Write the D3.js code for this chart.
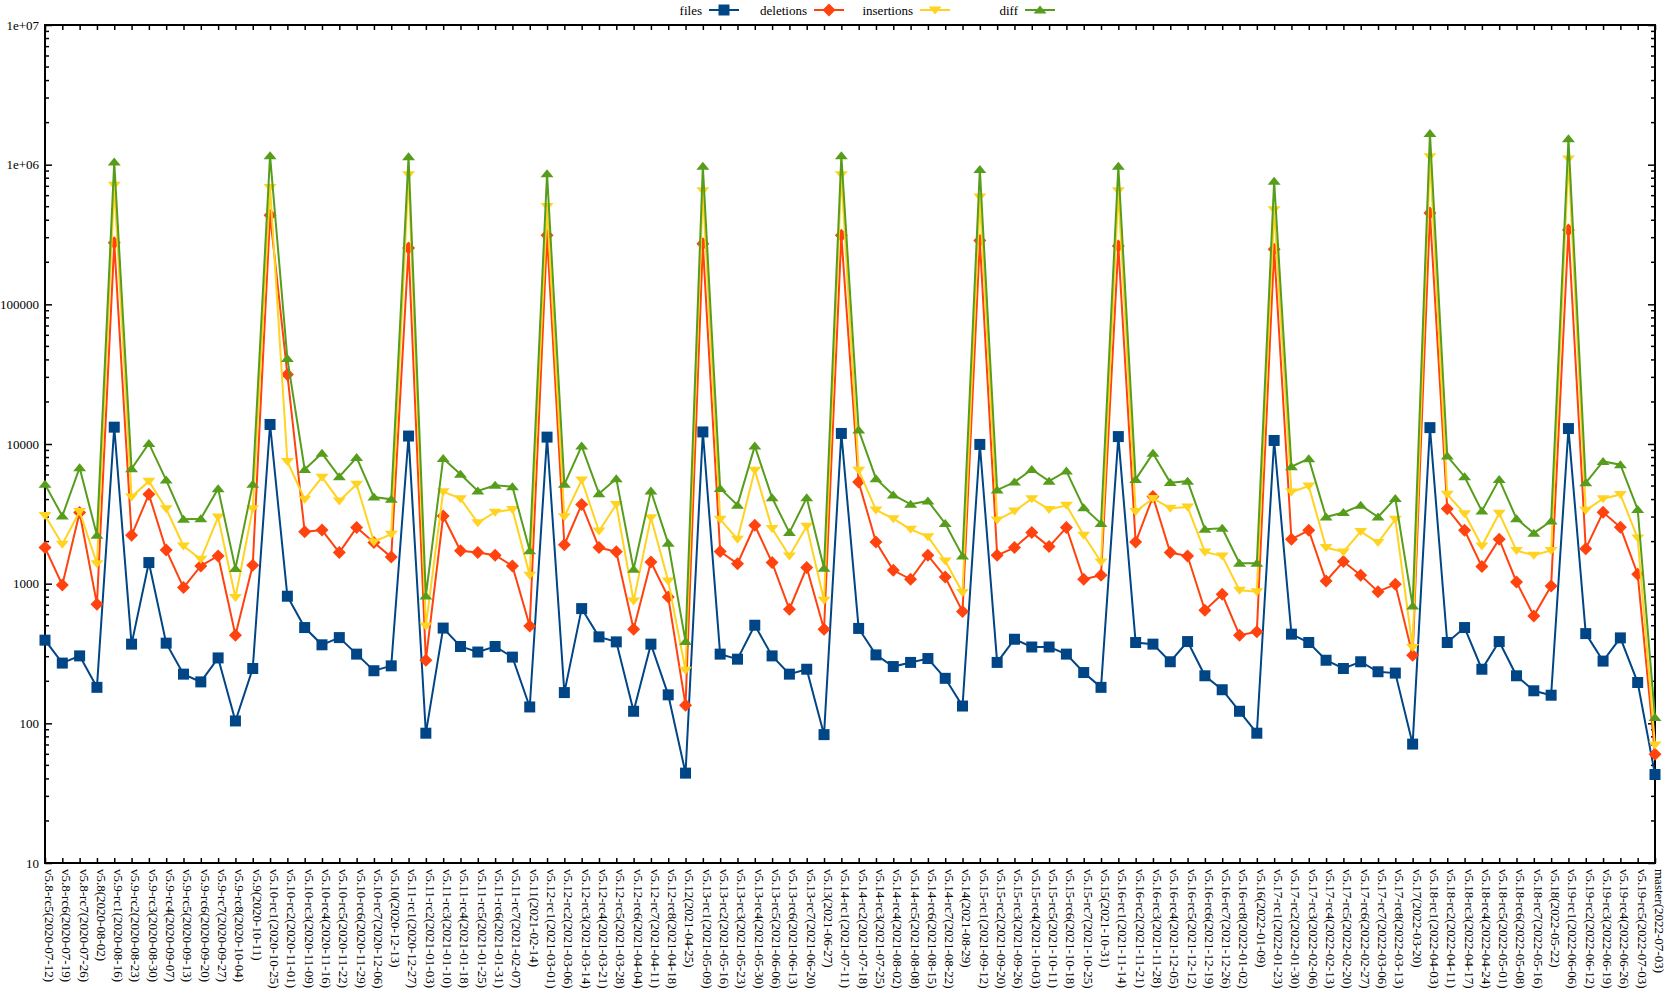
<!DOCTYPE html>
<html>
<head>
<meta charset="utf-8">
<script src="https://cdn.jsdelivr.net/npm/d3@7"></script>
<style>
  body { margin: 0; background: #fff; }
  text { font-family: "Liberation Serif", serif; font-size: 13px; fill: #000; }
</style>
</head>
<body>
<script>
var svgWidth = 1666;
var svgHeight = 995;

var labels = [
  "v5.8-rc5(2020-07-12)", "v5.8-rc6(2020-07-19)", "v5.8-rc7(2020-07-26)", "v5.8(2020-08-02)",
  "v5.9-rc1(2020-08-16)", "v5.9-rc2(2020-08-23)", "v5.9-rc3(2020-08-30)", "v5.9-rc4(2020-09-07)",
  "v5.9-rc5(2020-09-13)", "v5.9-rc6(2020-09-20)", "v5.9-rc7(2020-09-27)", "v5.9-rc8(2020-10-04)",
  "v5.9(2020-10-11)", "v5.10-rc1(2020-10-25)", "v5.10-rc2(2020-11-01)", "v5.10-rc3(2020-11-09)",
  "v5.10-rc4(2020-11-16)", "v5.10-rc5(2020-11-22)", "v5.10-rc6(2020-11-29)", "v5.10-rc7(2020-12-06)",
  "v5.10(2020-12-13)", "v5.11-rc1(2020-12-27)", "v5.11-rc2(2021-01-03)", "v5.11-rc3(2021-01-10)",
  "v5.11-rc4(2021-01-18)", "v5.11-rc5(2021-01-25)", "v5.11-rc6(2021-01-31)", "v5.11-rc7(2021-02-07)",
  "v5.11(2021-02-14)", "v5.12-rc1(2021-03-01)", "v5.12-rc2(2021-03-06)", "v5.12-rc3(2021-03-14)",
  "v5.12-rc4(2021-03-21)", "v5.12-rc5(2021-03-28)", "v5.12-rc6(2021-04-04)", "v5.12-rc7(2021-04-11)",
  "v5.12-rc8(2021-04-18)", "v5.12(2021-04-25)", "v5.13-rc1(2021-05-09)", "v5.13-rc2(2021-05-16)",
  "v5.13-rc3(2021-05-23)", "v5.13-rc4(2021-05-30)", "v5.13-rc5(2021-06-06)", "v5.13-rc6(2021-06-13)",
  "v5.13-rc7(2021-06-20)", "v5.13(2021-06-27)", "v5.14-rc1(2021-07-11)", "v5.14-rc2(2021-07-18)",
  "v5.14-rc3(2021-07-25)", "v5.14-rc4(2021-08-02)", "v5.14-rc5(2021-08-08)", "v5.14-rc6(2021-08-15)",
  "v5.14-rc7(2021-08-22)", "v5.14(2021-08-29)", "v5.15-rc1(2021-09-12)", "v5.15-rc2(2021-09-20)",
  "v5.15-rc3(2021-09-26)", "v5.15-rc4(2021-10-03)", "v5.15-rc5(2021-10-11)", "v5.15-rc6(2021-10-18)",
  "v5.15-rc7(2021-10-25)", "v5.15(2021-10-31)", "v5.16-rc1(2021-11-14)", "v5.16-rc2(2021-11-21)",
  "v5.16-rc3(2021-11-28)", "v5.16-rc4(2021-12-05)", "v5.16-rc5(2021-12-12)", "v5.16-rc6(2021-12-19)",
  "v5.16-rc7(2021-12-26)", "v5.16-rc8(2022-01-02)", "v5.16(2022-01-09)", "v5.17-rc1(2022-01-23)",
  "v5.17-rc2(2022-01-30)", "v5.17-rc3(2022-02-06)", "v5.17-rc4(2022-02-13)", "v5.17-rc5(2022-02-20)",
  "v5.17-rc6(2022-02-27)", "v5.17-rc7(2022-03-06)", "v5.17-rc8(2022-03-13)", "v5.17(2022-03-20)",
  "v5.18-rc1(2022-04-03)", "v5.18-rc2(2022-04-11)", "v5.18-rc3(2022-04-17)", "v5.18-rc4(2022-04-24)",
  "v5.18-rc5(2022-05-01)", "v5.18-rc6(2022-05-08)", "v5.18-rc7(2022-05-16)", "v5.18(2022-05-22)",
  "v5.19-rc1(2022-06-06)", "v5.19-rc2(2022-06-12)", "v5.19-rc3(2022-06-19)", "v5.19-rc4(2022-06-26)",
  "v5.19-rc5(2022-07-03)", "master(2022-07-03)"
];

var files = [
  394, 270, 304, 181, 13200, 369, 1416, 375, 225, 198, 294, 104, 247, 13800, 813, 485, 365, 411, 313, 238, 258, 11400,
  85, 481, 355, 324, 355, 298, 131, 11200, 166, 663, 416, 383, 122, 369, 160, 44, 12200, 313, 288, 504, 304, 225, 244,
  83, 11900, 478, 309, 255, 273, 291, 210, 133, 9930, 273, 400, 352, 352, 313, 231, 181, 11300, 379, 369, 276,
  385, 219, 174, 122, 85, 10600, 435, 379, 283, 247, 276, 234, 229, 71, 13100, 379, 485, 244, 385, 219, 171, 159,
  12900, 439, 279, 409, 196, 43
];

var deletions = [
  1813, 980, 3230, 713, 276000, 2220, 4360, 1745, 938, 1340, 1580, 428, 1355, 435000, 31500, 2350, 2420, 1670, 2520, 1970, 1550, 253000,
  283, 3050, 1720, 1670, 1600, 1340, 498, 312000, 1900, 3690, 1813, 1690, 472, 1430, 803, 135, 271000, 1700, 1390, 2620, 1416, 656, 1305,
  472, 312000, 5340, 1985, 1247, 1075, 1595, 1117, 631, 286000, 1595, 1813, 2320, 1842, 2520, 1075, 1150, 262000, 1985, 4200, 1670,
  1577, 645, 840, 428, 452, 248000, 2080, 2410, 1045, 1440, 1150, 877, 989, 307, 451000, 3440, 2410, 1325, 2080, 1028, 588, 961,
  340000, 1780, 3240, 2530, 1170, 60
];

var insertions = [
  3080, 1915, 3290, 1390, 711000, 4170, 5420, 3440, 1860, 1495, 3000, 795, 3440, 687000, 7500, 4020, 5790, 3910, 5140, 1990, 2260, 847000,
  498, 4560, 4060, 2730, 3250, 3400, 1150, 501000, 3020, 5520, 2380, 3690, 752, 2970, 1045, 240, 651000, 2890, 2080, 6500, 2480, 1580, 2580,
  761, 847000, 6500, 3370, 2920, 2450, 2170, 1455, 863, 586000, 2860, 3310, 4060, 3400, 3640, 2220, 1430, 651000, 3280, 4080, 3470,
  3540, 1686, 1577, 897, 877, 475000, 4530, 5000, 1813, 1686, 2360, 1968, 2890, 349, 1140000, 4360, 3170, 1860, 3190, 1726, 1596, 1726,
  1100000, 3350, 4060, 4350, 2120, 70
];

var diff = [
  5140, 3050, 6770, 2220, 1045000, 6650, 10100, 5520, 2890, 2920, 4790, 1282, 5140, 1160000, 40900, 6580, 8570, 5830, 7990, 4170, 4020, 1140000,
  817, 7880, 6070, 4610, 5060, 4950, 1720, 861000, 5140, 9660, 4410, 5650, 1268, 4610, 1945, 385, 975000, 4810, 3650, 9660, 4120, 2320, 4120,
  1288, 1160000, 12600, 5650, 4320, 3700, 3910, 2700, 1580, 925000, 4680, 5340, 6580, 5420, 6400, 3500, 2700, 975000, 5580, 8570, 5290,
  5420, 2450, 2490, 1400, 1400, 762000, 6870, 7850, 3000, 3230, 3640, 3000, 4080, 693, 1675000, 8190, 5830, 3310, 5580, 2920, 2300, 2810,
  1535000, 5270, 7500, 7110, 3400, 110
];

var yTickValues = [10, 100, 1000, 10000, 100000, 1000000, 10000000];
var yTickText = ["10", "100", "1000", "10000", "100000", "1e+06", "1e+07"];

var series = [
  { name: "files", values: files, color: "#004586", marker: "square" },
  { name: "deletions", values: deletions, color: "#ff420e", marker: "diamond" },
  { name: "insertions", values: insertions, color: "#ffd320", marker: "down" },
  { name: "diff", values: diff, color: "#579d1c", marker: "up" }
];

var plot = { left: 45, right: 1655, top: 25, bottom: 863 };

var svg = d3.select("body").append("svg")
  .attr("width", svgWidth)
  .attr("height", svgHeight);

var x = d3.scalePoint().domain(labels).range([plot.left, plot.right]);
var y = d3.scaleLog().domain([10, 1e7]).range([plot.bottom, plot.top]);

// marker shapes, roughly like gnuplot point types
function markerPath(type) {
  if (type === "square") return "M-5.5,-5.5H5.5V5.5H-5.5Z";
  if (type === "diamond") return "M0,-6.5L6.5,0L0,6.5L-6.5,0Z";
  if (type === "down") return "M-6.5,-3.5H6.5L0,4.5Z";
  return "M-6.5,3.5H6.5L0,-4.5Z";
}

// y axis, left and right, ticks inside
var minorTicks = y.ticks();
function isMajor(d) { return Math.abs(Math.log10(d) - Math.round(Math.log10(d))) < 1e-9; }

var leftAxis = d3.axisLeft(y).tickValues(yTickValues)
  .tickFormat(function(d, i) { return yTickText[i]; })
  .tickSize(-7).tickPadding(6);
var gl = svg.append("g").attr("transform", `translate(${plot.left},0)`).call(leftAxis);
gl.select(".domain").remove();
gl.selectAll("line").attr("stroke", "#000").attr("stroke-width", 1.5);
gl.selectAll("text").style("font-family", "Liberation Serif").style("font-size", "13px");

var rightAxis = d3.axisRight(y).tickValues(yTickValues).tickFormat("").tickSize(-7);
var gr = svg.append("g").attr("transform", `translate(${plot.right},0)`).call(rightAxis);
gr.select(".domain").remove();
gr.selectAll("line").attr("stroke", "#000").attr("stroke-width", 1.5);

svg.append("g").selectAll("line")
  .data(minorTicks.filter(function(d) { return !isMajor(d); }))
  .join("line")
  .attr("x1", plot.left).attr("x2", plot.left + 4)
  .attr("y1", function(d) { return y(d); }).attr("y2", function(d) { return y(d); })
  .attr("stroke", "#000").attr("stroke-width", 1.5);
svg.append("g").selectAll("line")
  .data(minorTicks.filter(function(d) { return !isMajor(d); }))
  .join("line")
  .attr("x1", plot.right).attr("x2", plot.right - 4)
  .attr("y1", function(d) { return y(d); }).attr("y2", function(d) { return y(d); })
  .attr("stroke", "#000").attr("stroke-width", 1.5);

// x axis, bottom and top
var bottomAxis = d3.axisBottom(x).tickSize(-5).tickFormat("");
var gb = svg.append("g").attr("transform", `translate(0,${plot.bottom})`).call(bottomAxis);
gb.select(".domain").remove();
gb.selectAll("line").attr("stroke", "#000").attr("stroke-width", 1.5);

var topAxis = d3.axisTop(x).tickSize(-5).tickFormat("");
var gt = svg.append("g").attr("transform", `translate(0,${plot.top})`).call(topAxis);
gt.select(".domain").remove();
gt.selectAll("line").attr("stroke", "#000").attr("stroke-width", 1.5);

svg.append("g").selectAll("text")
  .data(labels)
  .join("text")
  .attr("transform", function(d) { return `translate(${x(d) + 4.5},${plot.bottom + 6}) rotate(90)`; })
  .attr("dy", "0.35em")
  .text(function(d) { return d; });

// frame
svg.append("rect")
  .attr("x", plot.left).attr("y", plot.top)
  .attr("width", plot.right - plot.left).attr("height", plot.bottom - plot.top)
  .attr("fill", "none").attr("stroke", "#000").attr("stroke-width", 2);

// series
var line = d3.line()
  .x(function(d, i) { return x(labels[i]); })
  .y(function(d) { return y(d); });

series.forEach(function(s) {
  var g = svg.append("g");
  g.append("path")
    .attr("d", line(s.values))
    .attr("fill", "none")
    .attr("stroke", s.color)
    .attr("stroke-width", 2);
  g.selectAll("path.pt")
    .data(s.values)
    .join("path")
    .attr("class", "pt")
    .attr("transform", function(d, i) { return `translate(${x(labels[i])},${y(d)})`; })
    .attr("d", markerPath(s.marker))
    .attr("fill", s.color);
});

// legend
var legendRight = [702, 807, 913, 1018];
var legend = svg.append("g");
series.forEach(function(s, i) {
  var lx = legendRight[i];
  legend.append("text")
    .attr("x", lx).attr("y", 10)
    .attr("dy", "0.35em")
    .attr("text-anchor", "end")
    .text(s.name);
  legend.append("line")
    .attr("x1", lx + 7).attr("x2", lx + 37)
    .attr("y1", 10).attr("y2", 10)
    .attr("stroke", s.color).attr("stroke-width", 2);
  legend.append("path")
    .attr("transform", `translate(${lx + 22},10)`)
    .attr("d", markerPath(s.marker))
    .attr("fill", s.color);
});
</script>
</body>
</html>
